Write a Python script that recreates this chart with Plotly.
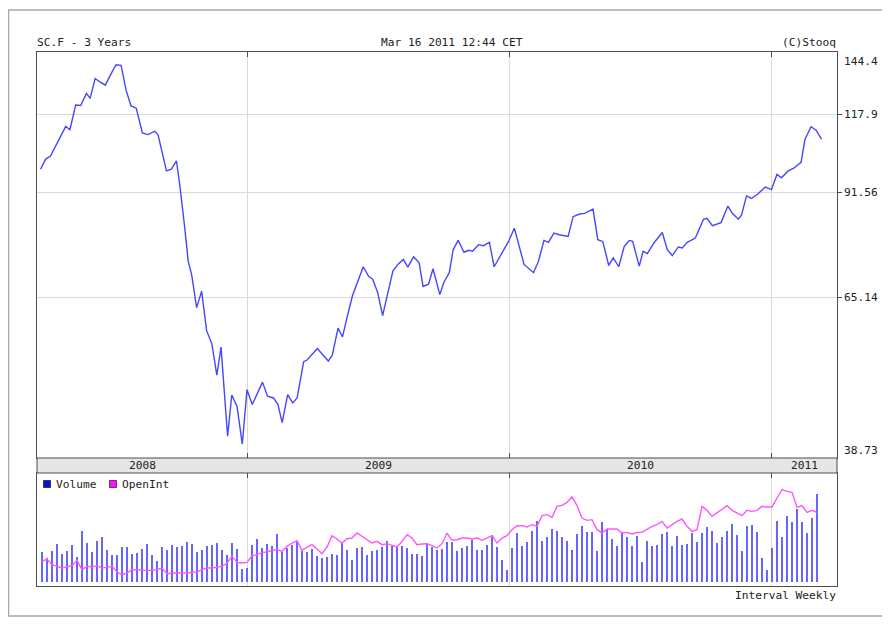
import numpy as np
import plotly.graph_objects as go

# ---------------- data ----------------
price_t = [2008.213, 2008.232, 2008.251, 2008.270, 2008.290, 2008.309, 2008.325, 2008.347, 2008.366, 2008.388,
           2008.402, 2008.421, 2008.439, 2008.460, 2008.482, 2008.501, 2008.520, 2008.539, 2008.558, 2008.578,
           2008.601, 2008.623, 2008.648, 2008.661, 2008.693, 2008.712, 2008.731, 2008.744, 2008.763, 2008.776,
           2008.789, 2008.808, 2008.827, 2008.846, 2008.866, 2008.885, 2008.901, 2008.911, 2008.926, 2008.942,
           2008.962, 2008.982, 2009.000, 2009.020, 2009.059, 2009.078, 2009.101, 2009.118, 2009.134, 2009.155,
           2009.174, 2009.191, 2009.216, 2009.229, 2009.268, 2009.310, 2009.325, 2009.347, 2009.364, 2009.383,
           2009.402, 2009.443, 2009.464, 2009.479, 2009.498, 2009.517, 2009.536, 2009.556, 2009.575, 2009.596,
           2009.613, 2009.635, 2009.656, 2009.671, 2009.692, 2009.709, 2009.735, 2009.750, 2009.771, 2009.786,
           2009.805, 2009.827, 2009.844, 2009.860, 2009.882, 2009.901, 2009.924, 2009.942, 2009.997, 2010.019,
           2010.056, 2010.092, 2010.111, 2010.132, 2010.149, 2010.170, 2010.190, 2010.224, 2010.243, 2010.268,
           2010.287, 2010.319, 2010.337, 2010.356, 2010.379, 2010.396, 2010.417, 2010.438, 2010.457, 2010.470,
           2010.495, 2010.510, 2010.526, 2010.551, 2010.583, 2010.602, 2010.621, 2010.644, 2010.659, 2010.678,
           2010.709, 2010.740, 2010.753, 2010.774, 2010.807, 2010.833, 2010.850, 2010.873, 2010.885, 2010.904,
           2010.923, 2010.946, 2010.976, 2010.999, 2011.020, 2011.037, 2011.062, 2011.084, 2011.112, 2011.127,
           2011.150, 2011.169, 2011.190]

price = [98.76, 101.97, 103.09, 106.45, 110.48, 113.49, 112.26, 121.63, 121.40, 126.27,
         124.27, 132.50, 131.10, 129.68, 134.64, 138.58, 138.27, 127.62, 121.24, 120.35,
         111.08, 110.48, 111.69, 110.40, 98.25, 98.76, 101.45, 93.64, 81.48, 73.23,
         70.17, 63.05, 66.52, 58.52, 56.07, 50.65, 55.47, 49.32, 41.57, 47.51,
         45.76, 40.52, 48.33, 46.06, 49.53, 47.31, 47.05, 46.06, 43.43, 47.56,
         46.30, 47.05, 52.93, 53.21, 55.23, 53.03, 54.06, 59.02, 57.34, 61.46,
         65.53, 71.99, 69.72, 69.13, 66.25, 61.46, 65.88, 70.99, 72.53, 73.71,
         71.90, 74.35, 72.93, 67.53, 68.03, 71.53, 65.77, 68.40, 70.62, 76.11,
         78.40, 75.45, 75.93, 75.69, 77.33, 77.08, 77.90, 71.99, 78.15, 81.58,
         72.53, 70.62, 73.30, 78.40, 77.90, 80.29, 79.85, 79.42, 84.67, 85.41,
         85.60, 86.79, 78.58, 78.15, 72.29, 74.10, 71.99, 76.91, 78.40, 78.15,
         72.13, 75.69, 75.13, 77.75, 80.44, 76.11, 74.65, 76.76, 76.52, 77.90,
         79.01, 83.97, 84.24, 82.27, 83.06, 87.63, 85.60, 83.97, 85.13, 90.57,
         89.82, 91.06, 93.22, 92.45, 97.09, 96.07, 98.13, 99.07, 101.00, 108.86,
         113.35, 112.05, 108.86]

volume = [90, 73, 93, 115, 85, 93, 113, 76, 153, 118, 90, 125, 135, 96, 83, 83, 106, 106, 86, 88,
          100, 115, 83, 63, 105, 96, 111, 105, 108, 121, 115, 90, 96, 108, 111, 117, 98, 83, 118, 100,
          40, 43, 113, 131, 103, 115, 108, 145, 90, 103, 113, 125, 93, 90, 100, 78, 73, 76, 86, 83,
          120, 96, 68, 103, 105, 83, 93, 96, 106, 125, 110, 106, 110, 103, 86, 85, 80, 116, 106,
          98, 100, 121, 121, 93, 103, 110, 128, 96, 96, 113, 143, 106, 66, 38, 103, 148, 110, 121, 153,
          183, 123, 135, 160, 155, 135, 125, 96, 145, 170, 150, 150, 93, 180, 160, 130, 108, 150, 135, 108,
          138, 60, 125, 108, 113, 145, 150, 110, 138, 113, 115, 148, 121, 148, 165, 153, 118, 135, 155, 176,
          141, 93, 170, 173, 151, 72, 38, 103, 183, 135, 200, 180, 220, 180, 148, 193, 266]

open_int = [63, 70, 53, 48, 43, 46, 50, 66, 38, 48, 46, 50, 43, 45, 48, 31, 23, 28, 38, 38,
            36, 36, 36, 38, 43, 26, 28, 28, 26, 28, 30, 31, 38, 43, 43, 45, 48, 58, 78, 60,
            58, 60, 80, 83, 90, 91, 96, 98, 93, 108, 118, 125, 96, 106, 113, 100, 86, 106, 140, 130,
            118, 131, 133, 148, 138, 128, 118, 123, 113, 116, 110, 106, 123, 143, 133, 113, 115, 116, 110,
            103, 116, 148, 126, 128, 133, 133, 130, 133, 126, 133, 140, 118, 133, 140, 158, 170, 170, 166, 173,
            168, 200, 203, 195, 228, 231, 240, 256, 230, 193, 186, 188, 158, 148, 160, 160, 160, 148, 150, 145,
            150, 150, 158, 168, 173, 183, 163, 173, 183, 190, 168, 153, 158, 228, 216, 198, 208, 218, 230, 216,
            208, 200, 216, 213, 216, 228, 226, 226, 253, 278, 273, 270, 225, 230, 210, 216, 210]

first_week = 2008.2186
week_step = 0.019059
week_t = [first_week + k * week_step for k in range(len(volume))]

y_ticks = [144.4, 117.9, 91.56, 65.14, 38.73]
year_bounds = [2009, 2010, 2011]
year_labels = ["2008", "2009", "2010", "2011"]

title_left = "SC.F - 3 Years"
title_mid = "Mar 16 2011 12:44 CET"
title_right = "(C)Stooq"
footer = "Interval Weekly"

# ---------------- layout helpers ----------------
# the page body has an 8px margin, so the figure is offset by 8px in the window
OFF = 8
W, H = 882, 618
X0, X1 = 2008.1995, 2011.2489


def px(x):
    return (x - OFF) / W


def py(y):
    return 1 - (y - OFF) / H


FONT = "DejaVu Sans Mono"
TXT = "#222222"
FRAME = "#4d4d4d"
GRID = "#dadada"

fig = go.Figure()

fig.add_trace(go.Scatter(x=price_t, y=price, mode="lines",
                         line=dict(color="#4646ff", width=1.4),
                         xaxis="x", yaxis="y", hoverinfo="skip"))

fig.add_trace(go.Bar(x=week_t, y=volume, width=0.0080,
                     marker=dict(color="#6666ff", line=dict(width=0)),
                     xaxis="x2", yaxis="y2", hoverinfo="skip"))

fig.add_trace(go.Scatter(x=week_t, y=open_int, mode="lines",
                         line=dict(color="#ff55ff", width=1.4),
                         xaxis="x2", yaxis="y2", hoverinfo="skip"))

xdom = [px(37), px(837)]
fig.update_layout(
    width=W, height=H, margin=dict(l=0, r=0, t=0, b=0), autosize=False,
    paper_bgcolor="white", plot_bgcolor="white", showlegend=False,
    bargap=0,
    xaxis=dict(domain=xdom, range=[X0, X1], tickvals=year_bounds, showticklabels=False,
               ticks="inside", ticklen=5, tickcolor=FRAME, showline=True, linecolor=FRAME,
               linewidth=1, mirror="ticks", showgrid=True, gridcolor=GRID, gridwidth=1,
               zeroline=False, anchor="y"),
    yaxis=dict(domain=[py(458), py(52)], type="log",
               range=[np.log10(y_ticks[-1]), np.log10(y_ticks[0])],
               tickvals=y_ticks[1:-1], showticklabels=False, side="right",
               ticks="outside", ticklen=4, tickcolor=FRAME, showline=True, linecolor=FRAME,
               linewidth=1, mirror=True, showgrid=True, gridcolor=GRID, gridwidth=1,
               zeroline=False, anchor="x"),
    xaxis2=dict(domain=xdom, range=[X0, X1], tickvals=year_bounds, showticklabels=False,
                side="top", ticks="inside", ticklen=5, tickcolor=FRAME, showline=True,
                linecolor=FRAME, linewidth=1, mirror=True, showgrid=True, gridcolor=GRID,
                zeroline=False, anchor="y2"),
    yaxis2=dict(domain=[py(585.7), py(473)], range=[-10, 328], showticklabels=False,
                ticks="", showline=True, linecolor=FRAME, linewidth=1, mirror=True,
                showgrid=False, zeroline=False, anchor="x2"),
)

shapes = []
# outer frame
shapes.append(dict(type="rect", xref="paper", yref="paper", x0=px(8.5), x1=px(887),
                   y0=py(616), y1=py(10), line=dict(color="#a8a8a8", width=1.5),
                   fillcolor="rgba(0,0,0,0)", layer="below"))
# year band
shapes.append(dict(type="rect", xref="paper", yref="paper", x0=px(37), x1=px(837),
                   y0=py(473), y1=py(458), line=dict(color=FRAME, width=1),
                   fillcolor="#e6e6e6", layer="above"))
# legend squares
shapes.append(dict(type="rect", xref="paper", yref="paper", x0=px(43.5), x1=px(50.5),
                   y0=py(487.5), y1=py(480.5), line=dict(color="#333366", width=1),
                   fillcolor="#1010d0"))
shapes.append(dict(type="rect", xref="paper", yref="paper", x0=px(109.5), x1=px(116.5),
                   y0=py(487.5), y1=py(480.5), line=dict(color="#663366", width=1),
                   fillcolor="#ff10ff"))
fig.update_layout(shapes=shapes)

ann = []
f = dict(family=FONT, size=11.2, color=TXT)
ann.append(dict(text=title_left, x=px(35), y=py(42), xref="paper", yref="paper",
                xanchor="left", yanchor="middle", showarrow=False, font=f))
ann.append(dict(text=title_mid, x=px(452), y=py(42), xref="paper", yref="paper",
                xanchor="center", yanchor="middle", showarrow=False, font=f))
ann.append(dict(text=title_right, x=px(838), y=py(42), xref="paper", yref="paper",
                xanchor="right", yanchor="middle", showarrow=False, font=f))
ann.append(dict(text=footer, x=px(838), y=py(595), xref="paper", yref="paper",
                xanchor="right", yanchor="middle", showarrow=False, font=f))
ann.append(dict(text="Volume", x=px(54), y=py(484), xref="paper", yref="paper",
                xanchor="left", yanchor="middle", showarrow=False, font=f))
ann.append(dict(text="OpenInt", x=px(120), y=py(484), xref="paper", yref="paper",
                xanchor="left", yanchor="middle", showarrow=False, font=f))

# right-hand price labels
for i, v in enumerate(y_ticks):
    shift = 0
    if i == 0:
        shift = -9
    elif i == len(y_ticks) - 1:
        shift = 8
    ann.append(dict(text=f"{v:g}", x=px(842), y=np.log10(v), xref="paper", yref="y",
                    xanchor="left", yanchor="middle", yshift=shift, showarrow=False, font=f))

# year labels centred in each visible year segment
edges = [X0] + year_bounds + [X1]
for lab, a, b in zip(year_labels, edges[:-1], edges[1:]):
    ann.append(dict(text=lab, x=(a + b) / 2, y=py(465.5), xref="x", yref="paper",
                    xanchor="center", yanchor="middle", showarrow=False, font=f))

fig.update_layout(annotations=ann)

fig.write_html("out.html")
